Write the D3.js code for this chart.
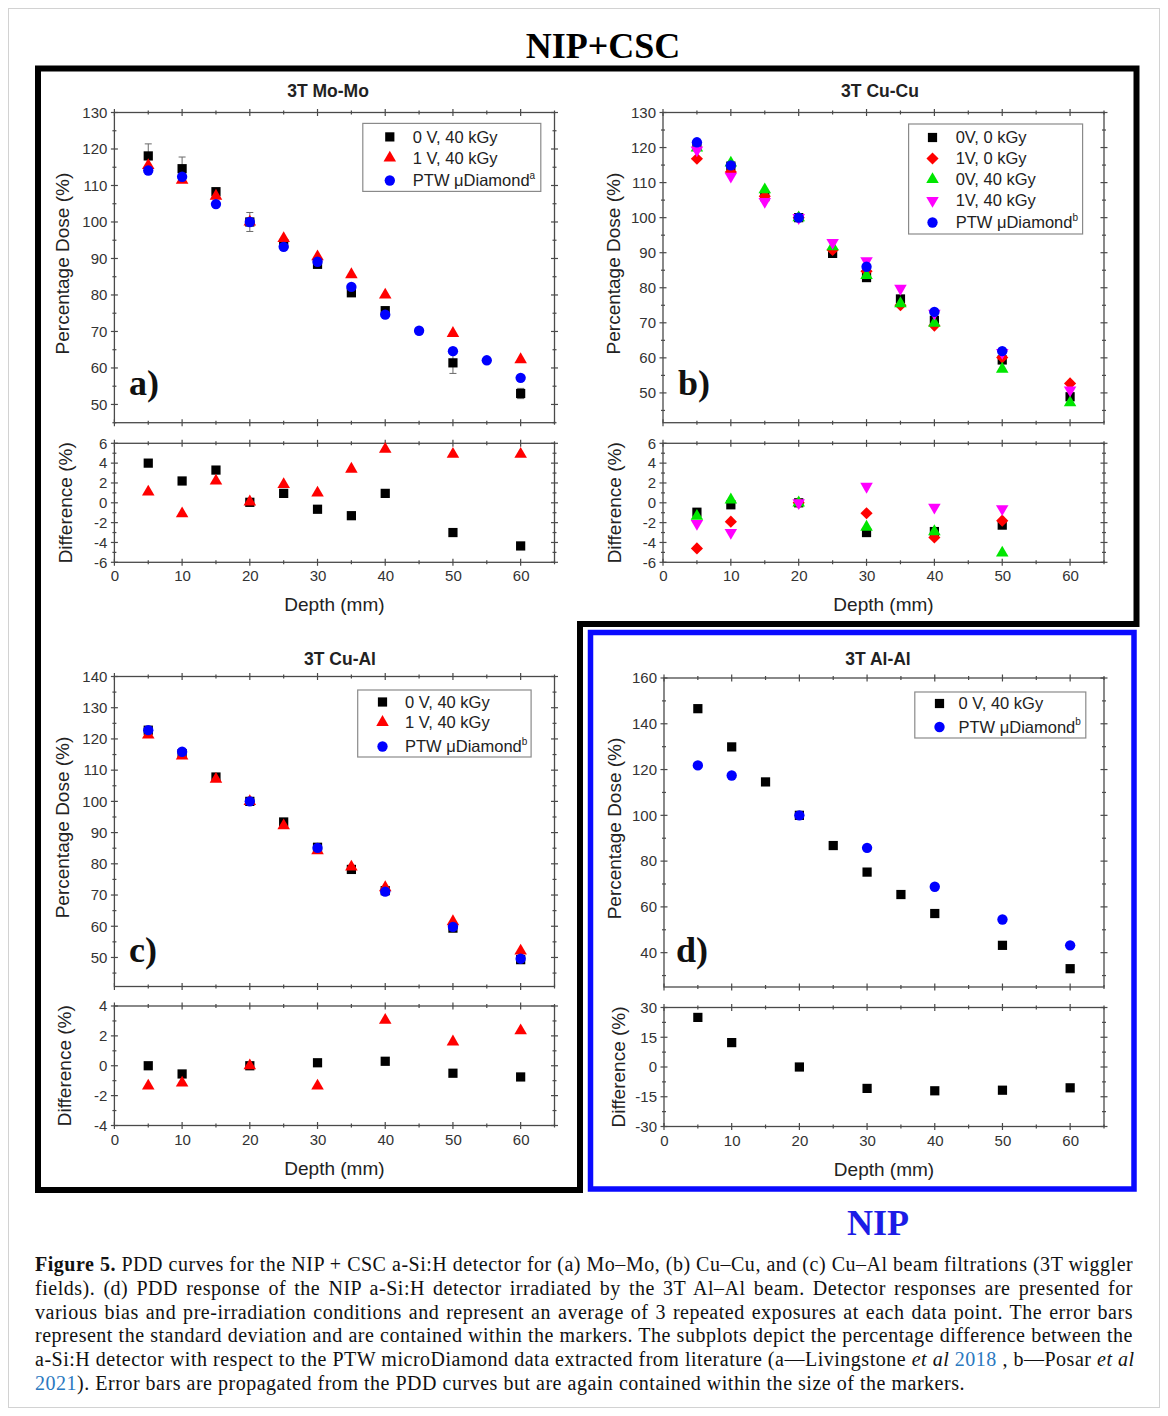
<!DOCTYPE html>
<html><head><meta charset="utf-8">
<script src="https://cdn.jsdelivr.net/npm/d3@7"></script>
<style>
body{margin:0;background:#fff;}
#wrap{position:relative;width:1168px;height:1416px;overflow:hidden;}
svg{position:absolute;left:0;top:0;}
.cap{position:absolute;left:35px;width:1098px;font-family:"Liberation Serif","Times New Roman",serif;font-size:20px;line-height:24px;color:#111;white-space:nowrap;text-align:justify;text-align-last:justify;}
.cap.last{text-align:left;text-align-last:left;width:auto;}
</style></head><body><div id="wrap"></div>
<script>
// ---------------- DATA ----------------
const depthTicks = [0,10,20,30,40,50,60];

// (a) 3T Mo-Mo
const aLegend = ["0 V, 40 kGy","1 V, 40 kGy","PTW \u03bcDiamond"];
const aDepth = [5,10,15,20,25,30,35,40,50,60];
const aV0 = [118.1,114.6,108.3,100,94.1,88.4,80.6,75.7,61.4,53.0];
const aV0Err = [3.3,3.2,0.8,2.6,0.5,0.6,0.6,0.6,2.9,1.4];
const aV1 = [115.5,111.5,107.1,100,95.5,90.5,85.6,80.0,69.5,62.3];
const aPtwDepth = [5,10,15,20,25,30,35,40,45,50,55,60];
const aPtw = [114.1,112.4,104.9,100,93.2,89.1,82.2,74.6,70.2,64.6,62.1,57.3];
const aDiffV0 = [4.0,2.2,3.3,0.05,0.95,-0.65,-1.3,0.95,-3.0,-4.35];
const aDiffV1 = [1.1,-1.1,2.2,0.1,1.85,1.0,3.4,5.4,4.9,4.9];
const aYTicks = [50,60,70,80,90,100,110,120,130];
const aDiffTicks = [-6,-4,-2,0,2,4,6];

// (b) 3T Cu-Cu
const bLegend = ["0V, 0 kGy","1V, 0 kGy","0V, 40 kGy","1V, 40 kGy","PTW \u03bcDiamond"];
const bDepth = [5,10,15,20,25,30,35,40,50,60];
const b0V0 = [120.3,114.7,106.0,100,89.8,82.9,76.8,70.7,59.4,48.9];
const b1V0 = [116.8,113.0,106.1,100,90.8,84.7,75.0,69.2,60.1,52.7];
const b0V40 = [119.9,115.6,108.0,100,91.7,83.5,75.5,69.9,56.8,47.2];
const b1V40 = [119.3,111.8,104.6,100,92.9,87.7,79.8,72.7,61.5,50.8];
const bPtwDepth = [5,10,20,30,40,50];
const bPtw = [121.5,114.9,100,86.0,73.1,61.9];
const bDiffDepth = [5,10,20,30,40,50];
const bDiff0V0 = [-0.95,-0.2,0,-3.0,-2.9,-2.25];
const bDiff1V0 = [-4.6,-1.9,0,-1.05,-3.5,-1.8];
const bDiff0V40 = [-1.35,0.3,0,-2.45,-2.9,-5.05];
const bDiff1V40 = [-2.1,-3.0,0,1.65,-0.45,-0.6];
const bYTicks = [50,60,70,80,90,100,110,120,130];
const bDiffTicks = [-6,-4,-2,0,2,4,6];

// (c) 3T Cu-Al
const cLegend = ["0 V, 40 kGy","1 V, 40 kGy","PTW \u03bcDiamond"];
const cDepth = [5,10,15,20,25,30,35,40,50,60];
const cV0 = [122.8,115.3,107.8,100,93.4,85.3,78.2,71.4,59.4,49.3];
const cV1 = [121.3,114.6,107.1,100,92.2,84.2,79.0,72.4,61.5,52.1];
const cPtwDepth = [5,10,20,30,40,50,60];
const cPtw = [122.8,115.9,100,85.1,71.1,59.8,49.6];
const cDiffDepth = [5,10,20,30,40,50,60];
const cDiffV0 = [0.0,-0.55,0.0,0.2,0.3,-0.5,-0.75];
const cDiffV1 = [-1.35,-1.15,0.0,-1.35,3.05,1.6,2.35];
const cYTicks = [50,60,70,80,90,100,110,120,130,140];
const cDiffTicks = [-4,-2,0,2,4];

// (d) 3T Al-Al
const dLegend = ["0 V, 40 kGy","PTW \u03bcDiamond"];
const dDepth = [5,10,15,20,25,30,35,40,50,60];
const dV0 = [146.6,129.9,114.6,100,86.8,75.2,65.4,57.1,43.2,33.0];
const dPtwDepth = [5,10,20,30,40,50,60];
const dPtw = [121.8,117.4,100,85.8,68.8,54.5,43.2];
const dDiffDepth = [5,10,20,30,40,50,60];
const dDiff = [25.0,12.3,0,-10.8,-12.0,-11.7,-10.5];
const dYTicks = [40,60,80,100,120,140,160];
const dDiffTicks = [-30,-15,0,15,30];

const captionLines = [
  [["b","Figure 5."],["n"," PDD curves for the NIP + CSC a-Si:H detector for (a) Mo\u2013Mo, (b) Cu\u2013Cu, and (c) Cu\u2013Al beam filtrations (3T wiggler"]],
  [["n","fields). (d) PDD response of the NIP a-Si:H detector irradiated by the 3T Al\u2013Al beam. Detector responses are presented for"]],
  [["n","various bias and pre-irradiation conditions and represent an average of 3 repeated exposures at each data point. The error bars"]],
  [["n","represent the standard deviation and are contained within the markers. The subplots depict the percentage difference between the"]],
  [["n","a-Si:H detector with respect to the PTW microDiamond data extracted from literature (a\u2014Livingstone "],["i","et al"],["n"," "],["l","2018"],["n"," , b\u2014Posar "],["i","et al"]],
  [["l","2021"],["n","). Error bars are propagated from the PDD curves but are again contained within the size of the markers."]]
];

// ---------------- STYLE ----------------
const SANS = "Liberation Sans, Arial, Helvetica, sans-serif";
const SERIF = "Liberation Serif, Times New Roman, serif";
const FRAME = "#4a4a4a";
const C = {black:"#000000", red:"#ff0000", blue:"#0000ff", green:"#00e600", magenta:"#ff00ff"};
const SYM = {
  square:{type:d3.symbolSquare,size:85,rot:0},
  tri:{type:d3.symbolTriangle,size:68,rot:0},
  circle:{type:d3.symbolCircle,size:84,rot:0},
  diamond:{type:d3.symbolSquare,size:74,rot:45},
  itri:{type:d3.symbolTriangle,size:68,rot:180}
};

const wrap = d3.select("#wrap");
const svg = wrap.append("svg").attr("width",1168).attr("height",1416);

// outer light border
svg.append("rect").attr("x",8.5).attr("y",8.5).attr("width",1151).attr("height",1399)
  .attr("fill","none").attr("stroke","#d2d2d2").attr("stroke-width",1);

svg.append("text").attr("x",603).attr("y",58).attr("text-anchor","middle")
  .attr("font-family",SERIF).attr("font-weight","bold").attr("font-size",36).attr("fill","#000").text("NIP+CSC");

// black L frame and blue frame
svg.append("path").attr("d","M38,68.5 H1136.5 V624 H580 V1190 H38 Z")
  .attr("fill","none").attr("stroke","#000").attr("stroke-width",6);
svg.append("rect").attr("x",590.5).attr("y",632.5).attr("width",543.5).attr("height",556.5)
  .attr("fill","none").attr("stroke","#0a0aff").attr("stroke-width",5.5);
svg.append("text").attr("x",878).attr("y",1235).attr("text-anchor","middle")
  .attr("font-family",SERIF).attr("font-weight","bold").attr("font-size",36).attr("fill","#1c1ce6").text("NIP");

// ---------------- PANELS ----------------
const S = (name,sym,color,xs,ys,err) => ({name,sym,color,xs,ys,err});
const panels = [
  {title:"3T Mo-Mo", titleX:328, titleY:97, tag:"a)", tagX:129, tagY:395,
   xr:[114.4,554.5], top:[112.5,422.7], yDom:[45,130], yTicks:aYTicks, yMinor:5,
   diff:[443.3,562.3], dDom:[-6,6], dTicks:aDiffTicks, dMinor:1,
   ylabX:62, dylabX:65,
   series:[S(aLegend[0],"square",C.black,aDepth,aV0,aV0Err),S(aLegend[1],"tri",C.red,aDepth,aV1),S(aLegend[2],"circle",C.blue,aPtwDepth,aPtw)],
   sup:"a",
   diffSeries:[S("","square",C.black,aDepth,aDiffV0),S("","tri",C.red,aDepth,aDiffV1)],
   legend:{x:362.8,y:123.4,w:178,h:68,rows:[136.9,157.9,180.5],symX:389.8,textX:412.8}},
  {title:"3T Cu-Cu", titleX:880, titleY:97, tag:"b)", tagX:678, tagY:395,
   xr:[663,1104], top:[112.5,422.7], yDom:[41.5,130], yTicks:bYTicks, yMinor:5,
   diff:[443.3,562.3], dDom:[-6,6], dTicks:bDiffTicks, dMinor:1,
   ylabX:613, dylabX:614,
   series:[S(bLegend[0],"square",C.black,bDepth,b0V0),S(bLegend[1],"diamond",C.red,bDepth,b1V0),
           S(bLegend[2],"tri",C.green,bDepth,b0V40),S(bLegend[3],"itri",C.magenta,bDepth,b1V40),
           S(bLegend[4],"circle",C.blue,bPtwDepth,bPtw)],
   sup:"b",
   diffSeries:[S("","square",C.black,bDiffDepth,bDiff0V0),S("","diamond",C.red,bDiffDepth,bDiff1V0),
               S("","tri",C.green,bDiffDepth,bDiff0V40),S("","itri",C.magenta,bDiffDepth,bDiff1V40)],
   legend:{x:908.6,y:124,w:174,h:110,rows:[137.5,158.5,179.5,200.5,222.5],symX:932.5,textX:955.7}},
  {title:"3T Cu-Al", titleX:340, titleY:665, tag:"c)", tagX:129, tagY:962,
   xr:[114.4,554.5], top:[676.5,986.5], yDom:[40.7,140], yTicks:cYTicks, yMinor:5,
   diff:[1006,1125.5], dDom:[-4,4], dTicks:cDiffTicks, dMinor:1,
   ylabX:62, dylabX:64,
   series:[S(cLegend[0],"square",C.black,cDepth,cV0),S(cLegend[1],"tri",C.red,cDepth,cV1),S(cLegend[2],"circle",C.blue,cPtwDepth,cPtw)],
   sup:"b",
   diffSeries:[S("","square",C.black,cDiffDepth,cDiffV0),S("","tri",C.red,cDiffDepth,cDiffV1)],
   legend:{x:357.7,y:690,w:173.4,h:67,rows:[702,722.3,746.5],symX:382.5,textX:405}},
  {title:"3T Al-Al", titleX:878, titleY:665, tag:"d)", tagX:676, tagY:962,
   xr:[664,1104], top:[678,987], yDom:[25,160], yTicks:dYTicks, yMinor:10,
   diff:[1007.5,1126.5], dDom:[-30,30], dTicks:dDiffTicks, dMinor:7.5,
   ylabX:614, dylabX:618,
   series:[S(dLegend[0],"square",C.black,dDepth,dV0),S(dLegend[1],"circle",C.blue,dPtwDepth,dPtw)],
   sup:"b",
   diffSeries:[S("","square",C.black,dDiffDepth,dDiff)],
   legend:{x:914.8,y:692,w:171,h:46,rows:[703.5,727],symX:939.5,textX:958.5}}
];

function minorVals(dom, step){
  const out=[]; const lo=Math.min(dom[0],dom[1]), hi=Math.max(dom[0],dom[1]);
  const start=Math.ceil(lo/step-1e-9)*step;
  for(let v=start; v<=hi+1e-9; v+=step) out.push(+v.toFixed(4));
  return out;
}

function drawFrame(g, x, y, yTicks, yMinor, showX){
  const [x0,x1]=x.range(); const [yb,yt]=y.range();
  const ticks=[];
  const xMaj=depthTicks, xMin=minorVals(x.domain(),5).filter(v=>!xMaj.includes(v));
  const yMin=minorVals(y.domain(),yMinor).filter(v=>!yTicks.includes(v));
  const add=(vals,len,isX)=>vals.forEach(v=>{
    if(isX){const p=x(v); if(p<x0-0.5||p>x1+0.5) return;
      ticks.push([p,yb-len,p,yb+len]); ticks.push([p,yt-len,p,yt+len]);}
    else {const p=y(v); if(p>yb+0.5||p<yt-0.5) return;
      ticks.push([x0-len,p,x0+len,p]); ticks.push([x1-len,p,x1+len,p]);}
  });
  add(xMaj,3.5,true); add(xMin,2,true); add(yTicks,3.5,false); add(yMin,2,false);
  g.append("g").selectAll("line").data(ticks).join("line")
    .attr("x1",d=>d[0]).attr("y1",d=>d[1]).attr("x2",d=>d[2]).attr("y2",d=>d[3])
    .attr("stroke",FRAME).attr("stroke-width",1.2);
  g.append("rect").attr("x",x0).attr("y",yt).attr("width",x1-x0).attr("height",yb-yt)
    .attr("fill","none").attr("stroke",FRAME).attr("stroke-width",1.3);
  const ay=g.append("g").attr("transform",`translate(${x0},0)`)
    .call(d3.axisLeft(y).tickValues(yTicks).tickSize(0).tickPadding(7).tickFormat(d=>String(d)));
  ay.select(".domain").remove();
  ay.attr("font-family",SANS).attr("font-size",15);
  ay.selectAll("text").attr("fill","#333");
  if(showX){
    const ax=g.append("g").attr("transform",`translate(0,${yb})`)
      .call(d3.axisBottom(x).tickValues(depthTicks).tickSize(0).tickPadding(8.5).tickFormat(d=>String(d)));
    ax.select(".domain").remove();
    ax.attr("font-family",SANS).attr("font-size",15);
    ax.selectAll("text").attr("fill","#333");
  }
}

function drawSeries(g, s, x, y){
  const sy=SYM[s.sym];
  const pts=s.xs.map((d,i)=>({d,v:s.ys[i],e:s.err?s.err[i]:0}));
  if(s.err){
    const eg=g.append("g").attr("stroke","#6a6a6a").attr("stroke-width",1);
    pts.forEach(p=>{
      const cx=x(p.d), y1=y(p.v+p.e), y2=y(p.v-p.e);
      eg.append("line").attr("x1",cx).attr("x2",cx).attr("y1",y1).attr("y2",y2);
      eg.append("line").attr("x1",cx-3.5).attr("x2",cx+3.5).attr("y1",y1).attr("y2",y1);
      eg.append("line").attr("x1",cx-3.5).attr("x2",cx+3.5).attr("y1",y2).attr("y2",y2);
    });
  }
  g.append("g").selectAll("path").data(pts).join("path")
    .attr("d",d3.symbol(sy.type,sy.size))
    .attr("transform",p=>`translate(${x(p.d)},${y(p.v)}) rotate(${sy.rot})`)
    .attr("fill",s.color);
}

panels.forEach(p=>{
  const g=svg.append("g");
  const x=d3.scaleLinear().domain([0,65]).range(p.xr);
  const y=d3.scaleLinear().domain(p.yDom).range([p.top[1],p.top[0]]);
  const yd=d3.scaleLinear().domain(p.dDom).range([p.diff[1],p.diff[0]]);
  drawFrame(g,x,y,p.yTicks,p.yMinor,false);
  drawFrame(g,x,yd,p.dTicks,p.dMinor,true);

  g.append("text").attr("x",p.titleX).attr("y",p.titleY).attr("text-anchor","middle")
    .attr("font-family",SANS).attr("font-weight","bold").attr("font-size",17.5).attr("fill","#222").text(p.title);
  const cxm=(p.xr[0]+p.xr[1])/2;
  g.append("text").attr("x",cxm).attr("y",p.diff[1]+49).attr("text-anchor","middle")
    .attr("font-family",SANS).attr("font-size",19).attr("fill","#222").text("Depth (mm)");
  g.append("text").attr("transform",`translate(${p.ylabX},${(p.top[0]+p.top[1])/2 - 4}) rotate(-90)`)
    .attr("text-anchor","middle").attr("dy","0.35em")
    .attr("font-family",SANS).attr("font-size",19).attr("fill","#222").text("Percentage Dose (%)");
  g.append("text").attr("transform",`translate(${p.dylabX},${(p.diff[0]+p.diff[1])/2}) rotate(-90)`)
    .attr("text-anchor","middle").attr("dy","0.35em")
    .attr("font-family",SANS).attr("font-size",19).attr("fill","#222").text("Difference (%)");
  g.append("text").attr("x",p.tagX).attr("y",p.tagY)
    .attr("font-family",SERIF).attr("font-weight","bold").attr("font-size",36).attr("fill","#111").text(p.tag);

  p.series.forEach(s=>drawSeries(g,s,x,y));
  p.diffSeries.forEach(s=>drawSeries(g,s,x,yd));

  const L=p.legend;
  g.append("rect").attr("x",L.x).attr("y",L.y).attr("width",L.w).attr("height",L.h)
    .attr("fill","#fff").attr("stroke","#8a8a8a").attr("stroke-width",1.2);
  p.series.forEach((s,i)=>{
    const sy=SYM[s.sym];
    g.append("path").attr("d",d3.symbol(sy.type,sy.size))
      .attr("transform",`translate(${L.symX},${L.rows[i]}) rotate(${sy.rot})`).attr("fill",s.color);
    const t=g.append("text").attr("x",L.textX).attr("y",L.rows[i]).attr("dy","0.36em")
      .attr("font-family",SANS).attr("font-size",16.5).attr("fill","#222").text(s.name);
    if(s.name.startsWith("PTW")){
      t.append("tspan").attr("dy","-0.75em").attr("font-size",10).text(p.sup);
    }
  });
});

// caption
const capDivs = captionLines.map((line,i)=>{
  const div=wrap.append("div").attr("class","cap"+(i===captionLines.length-1?" last":""))
    .style("top",(1252+i*23.8)+"px");
  line.forEach(([k,txt])=>{
    const sp=div.append("span").text(txt);
    if(k==="b") sp.style("font-weight","bold");
    if(k==="i") sp.style("font-style","italic");
    if(k==="l") sp.style("color","#2a78c0");
  });
  return div;
});
// fit letter spacing so the (unjustified) last line spans like the original (~930px)
(function(){
  const last=capDivs[capDivs.length-1].node();
  const w0=last.getBoundingClientRect().width;
  const n=last.textContent.length;
  let ls=Math.max(0,(930-w0)/n);
  // make sure the widest line still fits
  capDivs.forEach(d=>d.style("letter-spacing",ls+"px"));
})();
</script></body></html>
